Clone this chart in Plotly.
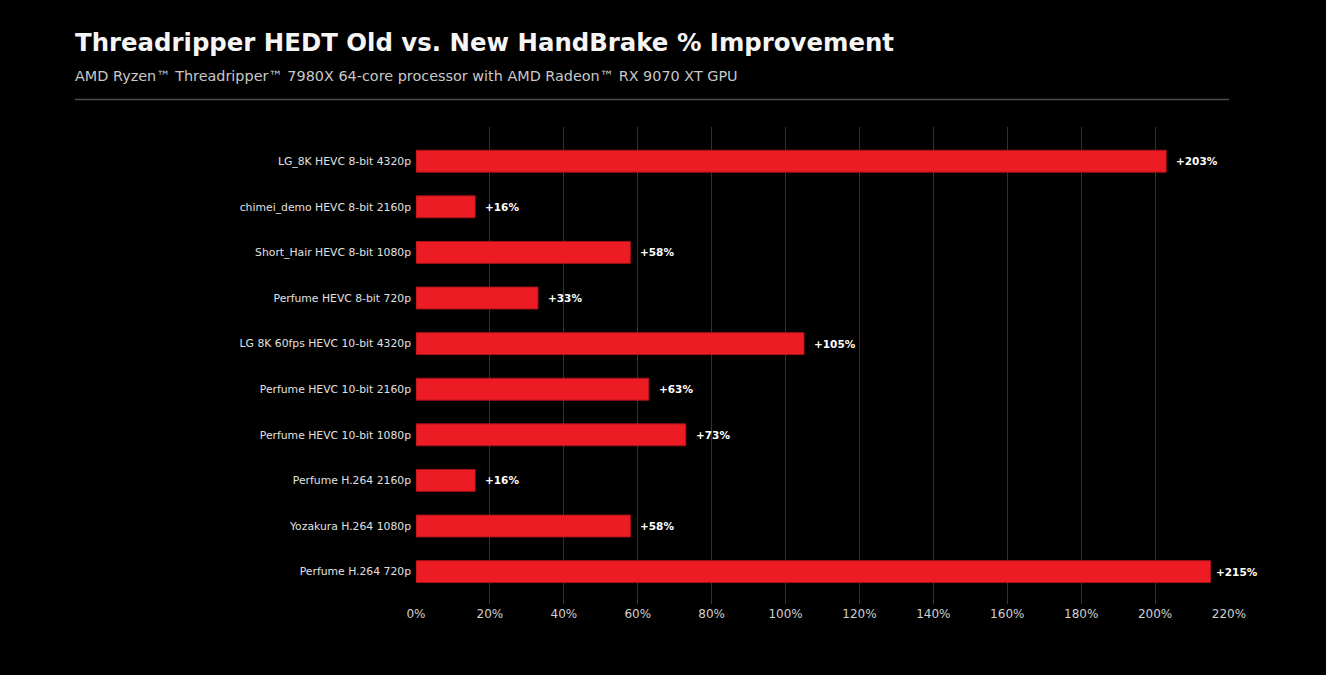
import plotly.graph_objects as go

categories = [
    "LG_8K HEVC 8-bit 4320p",
    "chimei_demo HEVC 8-bit 2160p",
    "Short_Hair HEVC 8-bit 1080p",
    "Perfume HEVC 8-bit 720p",
    "LG 8K 60fps HEVC 10-bit 4320p",
    "Perfume HEVC 10-bit 2160p",
    "Perfume HEVC 10-bit 1080p",
    "Perfume H.264 2160p",
    "Yozakura H.264 1080p",
    "Perfume H.264 720p",
]
improvement = [203, 16, 58, 33, 105, 63, 73, 16, 58, 215]
tick_values = [0, 20, 40, 60, 80, 100, 120, 140, 160, 180, 200, 220]
tick_labels = [f"{v}%" for v in tick_values]

W, H = 1326, 675
ML, MR, MT, MB = 416, 97, 127, 71
pw = W - ML - MR
ph = H - MT - MB

def px_x(p):
    return (p - ML) / pw

def px_y(p):
    return 1 - (p - MT) / ph

fig = go.Figure()
fig.add_trace(go.Bar(
    y=categories,
    x=improvement,
    orientation="h",
    width=0.48,
    marker=dict(color="#ED1C24", line=dict(color="#A8141A", width=1)),
    hoverinfo="x+y",
))

for c, v in zip(categories, improvement):
    fig.add_annotation(
        x=v, y=c, xref="x", yref="y",
        text=f"<b>+{v}%</b>", showarrow=False,
        xanchor="left", yanchor="middle", xshift=8 if v < 210 else 3,
        font=dict(family="DejaVu Sans", size=10.5, color="#ffffff"),
    )

fig.add_annotation(
    x=px_x(73), y=px_y(42), xref="paper", yref="paper",
    text="<b>Threadripper HEDT Old vs. New HandBrake % Improvement</b>",
    showarrow=False, xanchor="left", yanchor="middle",
    font=dict(family="DejaVu Sans", size=24.4, color="#f5f5f5"),
)
fig.add_annotation(
    x=px_x(73), y=px_y(76), xref="paper", yref="paper",
    text="AMD Ryzen™ Threadripper™ 7980X 64-core processor with AMD Radeon™ RX 9070 XT GPU",
    showarrow=False, xanchor="left", yanchor="middle",
    font=dict(family="DejaVu Sans", size=14.4, color="#c8c8c8"),
)
fig.add_shape(
    type="line", xref="paper", yref="paper",
    x0=px_x(75), x1=px_x(1229), y0=px_y(99.5), y1=px_y(99.5),
    line=dict(color="#4a4a4a", width=1.5),
)

fig.update_layout(
    width=W, height=H,
    margin=dict(l=ML, r=MR, t=MT, b=MB, pad=0),
    paper_bgcolor="#000000",
    plot_bgcolor="#000000",
    showlegend=False,
    font=dict(family="DejaVu Sans", color="#dddddd"),
    xaxis=dict(
        range=[0, 220],
        tickvals=tick_values,
        ticktext=tick_labels,
        showgrid=True,
        gridcolor="#333333",
        gridwidth=1,
        zeroline=False,
        showline=False,
        ticks="",
        tickfont=dict(family="DejaVu Sans", size=12, color="#d0d0d0"),
        ticklabelstandoff=1,
    ),
    yaxis=dict(
        type="category",
        categoryorder="array",
        categoryarray=categories,
        range=[9.71, -0.75],
        showgrid=False,
        zeroline=False,
        showline=False,
        ticks="",
        ticklabelstandoff=4,
        tickfont=dict(family="DejaVu Sans", size=10.8, color="#e0e0e0"),
    ),
)

fig.write_html("out.html")
